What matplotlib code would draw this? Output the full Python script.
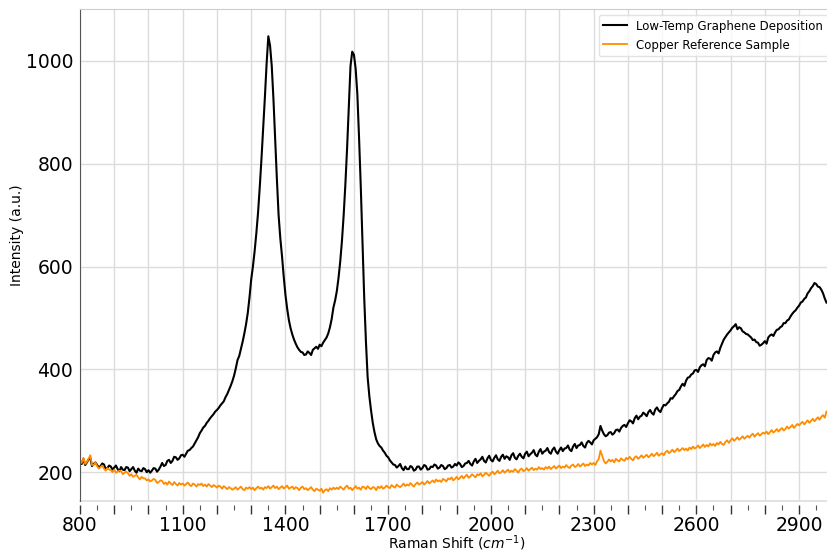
import numpy as np
import matplotlib
matplotlib.use("Agg")
import matplotlib.pyplot as plt
from matplotlib.ticker import MultipleLocator, FuncFormatter

# Raman spectra, sampled every 5 cm^-1 from 800 to 2980
shift = np.arange(800, 2985, 5)

graphene = [
    222, 216, 226, 214, 219, 225, 228, 212, 216, 219,   # 800
    214, 209, 212, 217, 215, 206, 208, 213, 211, 205,   # 850
    209, 213, 206, 202, 210, 205, 204, 210, 209, 202,   # 900
    206, 210, 203, 199, 207, 203, 202, 208, 206, 200,   # 950
    204, 199, 203, 208, 207, 201, 205, 211, 218, 212,   # 1000
    214, 222, 224, 218, 222, 230, 229, 224, 227, 233,   # 1050
    234, 230, 236, 242, 243, 247, 250, 256, 262, 268,   # 1100
    276, 281, 287, 290, 296, 300, 305, 309, 313, 318,   # 1150
    321, 325, 330, 334, 338, 346, 352, 360, 368, 377,   # 1200
    388, 402, 418, 426, 440, 454, 470, 488, 510, 540,   # 1250
    575, 600, 630, 665, 705, 755, 810, 870, 930, 995,   # 1300
    1048, 1030, 990, 925, 845, 770, 700, 655, 620, 580, # 1350
    545, 518, 496, 480, 468, 458, 450, 443, 438, 434,   # 1400
    433, 428, 429, 435, 432, 428, 438, 441, 444, 440,   # 1450
    448, 445, 452, 457, 462, 470, 482, 498, 520, 534,   # 1500
    552, 578, 610, 650, 700, 760, 830, 910, 990, 1018,  # 1550
    1012, 985, 935, 850, 755, 645, 540, 455, 385, 348,  # 1600
    320, 296, 278, 264, 256, 251, 248, 242, 238, 232,   # 1650
    229, 223, 219, 215, 214, 209, 212, 216, 208, 204,   # 1700
    211, 206, 206, 212, 210, 203, 205, 211, 211, 205,   # 1750
    208, 214, 212, 205, 206, 211, 210, 215, 213, 207,   # 1800
    209, 214, 212, 206, 208, 213, 214, 209, 211, 216,   # 1850
    213, 219, 216, 210, 212, 217, 218, 222, 216, 213,   # 1900
    221, 226, 218, 222, 225, 230, 222, 219, 227, 232,   # 1950
    224, 221, 228, 233, 225, 222, 230, 234, 226, 231,   # 2000
    229, 224, 233, 237, 228, 225, 232, 236, 230, 227,   # 2050
    236, 240, 231, 235, 238, 243, 234, 231, 240, 245,   # 2100
    236, 240, 242, 247, 239, 236, 244, 248, 240, 236,   # 2150
    243, 248, 241, 246, 247, 252, 244, 241, 250, 255,   # 2200
    247, 252, 253, 258, 251, 248, 257, 261, 258, 254,   # 2250
    262, 265, 268, 274, 290, 281, 274, 270, 272, 277,   # 2300
    278, 273, 276, 282, 283, 279, 286, 290, 292, 288,   # 2350
    295, 301, 299, 295, 305, 310, 303, 308, 310, 316,   # 2400
    313, 309, 317, 321, 315, 312, 322, 326, 320, 317,   # 2450
    325, 331, 330, 334, 337, 344, 343, 348, 352, 358,   # 2500
    360, 367, 372, 368, 378, 384, 385, 390, 392, 398,   # 2550
    399, 395, 404, 408, 410, 406, 418, 422, 421, 417,   # 2600
    428, 433, 435, 431, 442, 450, 458, 463, 468, 472,   # 2650
    476, 481, 484, 488, 478, 482, 480, 474, 472, 469,   # 2700
    468, 465, 462, 457, 458, 453, 452, 446, 448, 451,   # 2750
    455, 450, 462, 466, 468, 465, 472, 477, 478, 482,   # 2800
    484, 490, 490, 495, 497, 503, 508, 512, 515, 520,   # 2850
    524, 530, 532, 537, 540, 548, 552, 558, 562, 568,   # 2900
    566, 561, 560, 555, 548, 538, 530,                  # 2950
]

copper = [
    224, 218, 228, 216, 220, 226, 233, 214, 214, 219,   # 800
    212, 207, 210, 213, 207, 203, 208, 205, 204, 200,   # 850
    205, 199, 201, 203, 202, 196, 199, 201, 198, 193,   # 900
    196, 191, 193, 195, 190, 186, 191, 188, 188, 184,   # 950
    186, 182, 184, 187, 185, 179, 181, 184, 183, 177,   # 1000
    180, 176, 182, 178, 175, 181, 177, 174, 179, 176,   # 1050
    178, 174, 177, 180, 175, 173, 178, 176, 172, 177,   # 1100
    175, 178, 173, 176, 172, 177, 174, 171, 175, 173,   # 1150
    170, 174, 172, 168, 173, 170, 167, 171, 169, 166,   # 1200
    168, 171, 166, 169, 172, 167, 165, 170, 168, 171,   # 1250
    167, 170, 165, 169, 172, 168, 170, 166, 171, 169,   # 1300
    173, 168, 171, 174, 169, 172, 167, 170, 173, 168,   # 1350
    171, 174, 168, 170, 172, 167, 171, 169, 165, 170,   # 1400
    172, 167, 169, 165, 168, 171, 166, 163, 168, 166,   # 1450
    164, 168, 160, 165, 167, 163, 169, 166, 170, 167,   # 1500
    170, 167, 172, 169, 166, 171, 174, 168, 170, 165,   # 1550
    169, 173, 168, 170, 166, 172, 171, 167, 173, 169,   # 1600
    167, 171, 170, 165, 172, 169, 173, 168, 170, 174,   # 1650
    171, 169, 175, 172, 170, 176, 173, 171, 174, 178,   # 1700
    173, 176, 174, 179, 175, 172, 177, 180, 176, 178,   # 1750
    181, 176, 179, 183, 178, 181, 184, 180, 186, 182,   # 1800
    184, 181, 187, 185, 182, 188, 186, 190, 184, 187,   # 1850
    191, 186, 189, 193, 188, 192, 195, 189, 192, 196,   # 1900
    193, 190, 196, 194, 198, 192, 195, 199, 196, 193,   # 1950
    198, 201, 196, 199, 203, 198, 200, 204, 199, 202,   # 2000
    205, 200, 203, 201, 206, 203, 199, 205, 207, 202,   # 2050
    204, 208, 203, 206, 209, 204, 207, 205, 210, 206,   # 2100
    208, 205, 210, 207, 211, 206, 209, 212, 207, 210,   # 2150
    213, 208, 211, 209, 214, 210, 208, 213, 215, 210,   # 2200
    212, 216, 211, 214, 217, 212, 215, 213, 218, 215,   # 2250
    218, 214, 221, 226, 242, 232, 222, 217, 220, 225,   # 2300
    221, 224, 219, 226, 223, 221, 227, 224, 222, 228,   # 2350
    225, 230, 226, 223, 229, 231, 226, 229, 233, 228,   # 2400
    231, 234, 229, 232, 236, 231, 234, 238, 232, 235,   # 2450
    237, 233, 239, 242, 237, 240, 244, 239, 242, 246,   # 2500
    241, 244, 247, 243, 246, 242, 248, 245, 250, 246,   # 2550
    248, 252, 247, 250, 254, 249, 253, 250, 256, 252,   # 2600
    255, 251, 257, 254, 259, 255, 253, 259, 262, 257,   # 2650
    262, 266, 261, 264, 268, 263, 266, 270, 265, 268,   # 2700
    271, 267, 272, 275, 269, 273, 276, 271, 274, 277,   # 2750
    275, 279, 274, 278, 282, 277, 280, 284, 279, 283,   # 2800
    286, 281, 284, 289, 285, 288, 292, 286, 290, 294,   # 2850
    291, 295, 298, 293, 297, 301, 296, 300, 304, 299,   # 2900
    303, 307, 302, 308, 311, 306, 318,                  # 2950
]

labels = ["Low-Temp Graphene Deposition", "Copper Reference Sample"]
colors = ["black", "darkorange"]

fig = plt.figure(figsize=(8.27, 5.53), dpi=100)
ax = fig.add_axes([80/827, 52/553, 754/827, 492/553])

ax.plot(shift, graphene, color=colors[0], lw=1.5, label=labels[0])
ax.plot(shift, copper, color=colors[1], lw=1.3, label=labels[1])

ax.set_xlim(800, 3002)
ax.set_ylim(144, 1101)

ax.xaxis.set_major_locator(MultipleLocator(100))
ax.xaxis.set_minor_locator(MultipleLocator(50))
ax.xaxis.set_major_formatter(FuncFormatter(lambda v, p: "%d" % v if (v - 800) % 300 == 0 else ""))
ax.yaxis.set_major_locator(MultipleLocator(200))

ax.grid(True, which="major", color="#dcdcdc", lw=1.0)
ax.set_axisbelow(True)

ax.tick_params(axis="x", which="major", length=6.5, width=1, color="#333333", labelsize=13.5, pad=1.5)
ax.tick_params(axis="x", which="minor", length=3.5, width=0.8, color="#555555")
ax.tick_params(axis="y", length=0, labelsize=13.5, pad=5)

ax.spines["right"].set_visible(False)
ax.spines["top"].set_color("#cccccc")
ax.spines["left"].set_color("#555555")
ax.spines["bottom"].set_position(("outward", 3))
ax.spines["bottom"].set_visible(False)
ax.axhline(144, color="#dddddd", lw=1.2, clip_on=False)

ax.set_xlabel("Raman Shift ($cm^{-1}$)", fontsize=10)
ax.xaxis.set_label_coords(0.5, -0.066)
ax.set_ylabel("Intensity (a.u.)", fontsize=10)
ax.yaxis.set_label_coords(-0.074, 0.54)

leg = ax.legend(loc="upper right", fontsize=8.5, frameon=True, fancybox=True)
leg.get_frame().set_edgecolor("#dddddd")

fig.savefig("out.png", dpi=100)
